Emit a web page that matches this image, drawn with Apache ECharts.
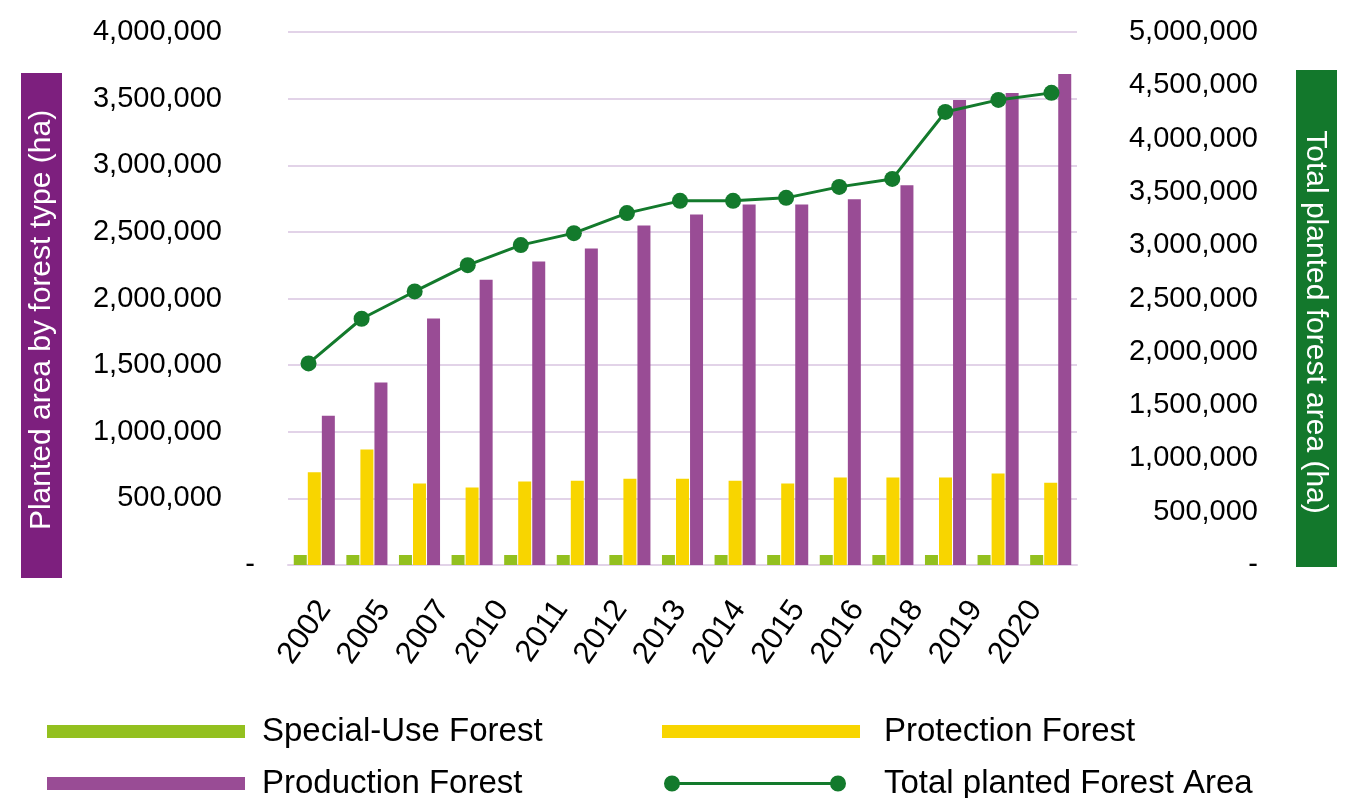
<!DOCTYPE html>
<html>
<head>
<meta charset="utf-8">
<script src="https://cdn.jsdelivr.net/npm/echarts@6/dist/echarts.min.js"></script>
<style>
  html, body { margin: 0; padding: 0; background: #fff; }
  #main { width: 1357px; height: 798px; }
</style>
</head>
<body>
<div id="main"></div>
<script>
// 15 plotted points, but the source only prints 13 year labels under them
var points = ['1', '2', '3', '4', '5', '6', '7', '8', '9', '10', '11', '12', '13', '14', '15'];
var yearLabels = ['2002', '2005', '2007', '2010', '2011', '2012', '2013', '2014', '2015', '2016', '2018', '2019', '2020'];

var specialUse = [75000, 75000, 75000, 75000, 75000, 75000, 75000, 75000, 75000, 75000, 75000, 75000, 75000, 75000, 75000];
var protection = [696000, 866000, 611000, 581000, 626000, 633000, 648000, 648000, 633000, 611000, 656000, 656000, 656000, 686000, 618000];
var production = [1121000, 1370000, 1850000, 2140000, 2277000, 2375000, 2547000, 2631000, 2706000, 2706000, 2744000, 2849000, 3489000, 3542000, 3684000];
var totalPlanted = [1891000, 2310000, 2566000, 2813000, 3001000, 3113000, 3301000, 3416000, 3416000, 3444000, 3547000, 3622000, 4250000, 4363000, 4429000];

var FONT = '"Liberation Sans", Arial, sans-serif';
var GRID_COLOR = '#e2d3e8';

function fmt(v) {
  return v === 0 ? '-' : v.toLocaleString('en-US');
}

var chartDom = document.getElementById('main');
var myChart = echarts.init(chartDom);
var option;

var lineIcon = 'path://M8,0 A8,8 0 1,1 8,16 A8,8 0 1,1 8,0 Z M174,0 A8,8 0 1,1 174,16 A8,8 0 1,1 174,0 Z M14,6.5 L168,6.5 L168,9.5 L14,9.5 Z';

function legendAt(name, left, top, w, h, icon, gap) {
  return {
    data: [name],
    left: left,
    top: top,
    padding: 0,
    icon: icon,
    itemWidth: w,
    itemHeight: h,
    itemStyle: { borderWidth: 0 },
    textStyle: { fontFamily: FONT, fontSize: 33, color: '#000', padding: [0, 0, 0, gap] }
  };
}

option = {
  animation: false,
  backgroundColor: '#fff',
  textStyle: { fontFamily: FONT },
  grid: [
    { left: 288, right: 280, top: 32, bottom: 233 },  // bars
    { left: 282, right: 279, top: 32, bottom: 233 },  // total line sits a little wider in the source
    { left: 295, right: 292, top: 32, bottom: 233 }   // year labels, spaced tighter than the bars
  ],
  legend: [
    legendAt('Special-Use Forest', 47, 715, 198, 13, 'rect', 12),
    legendAt('Production Forest', 47, 767, 198, 13, 'rect', 12),
    legendAt('Protection Forest', 662, 715, 198, 13, 'rect', 19),
    legendAt('Total planted Forest Area', 664, 767, 182, 16, lineIcon, 33)
  ],
  xAxis: [
    {
      type: 'category',
      gridIndex: 2,
      data: yearLabels,
      position: 'bottom',
      boundaryGap: true,
      axisLine: { show: false },
      axisTick: { show: false },
      axisLabel: { rotate: 55, fontSize: 31, color: '#000', margin: 39, fontFamily: FONT }
    },
    {
      type: 'category',
      gridIndex: 0,
      data: points,
      position: 'bottom',
      axisLine: { show: true, lineStyle: { color: GRID_COLOR, width: 2 } },
      axisTick: { show: false },
      axisLabel: { show: false }
    },
    {
      type: 'category',
      gridIndex: 1,
      data: points,
      show: false
    }
  ],
  yAxis: [
    {
      type: 'value',
      gridIndex: 0,
      min: 0,
      max: 4000000,
      interval: 500000,
      axisLine: { show: false },
      axisTick: { show: false },
      splitLine: { lineStyle: { color: GRID_COLOR, width: 2 } },
      axisLabel: {
        align: 'right',
        margin: 33,
        formatter: function (v) {
          return v === 0 ? '{d|-}' : '{n|' + fmt(v) + '}';
        },
        rich: {
          n: { fontSize: 29, color: '#000', fontFamily: FONT, padding: [0, 33, 0, 0] },
          d: { fontSize: 29, color: '#000', fontFamily: FONT }
        }
      }
    },
    {
      type: 'value',
      gridIndex: 1,
      position: 'right',
      min: 0,
      max: 5000000,
      interval: 500000,
      axisLine: { show: false },
      axisTick: { show: false },
      splitLine: { show: false },
      axisLabel: {
        align: 'right',
        margin: 180,
        fontSize: 29,
        color: '#000',
        fontFamily: FONT,
        formatter: fmt
      }
    },
    {
      type: 'value',
      gridIndex: 2,
      show: false
    }
  ],
  graphic: [
    { type: 'rect', shape: { x: 21, y: 73, width: 41, height: 505 }, style: { fill: '#7d1f7e' } },
    {
      type: 'text', x: 42, y: 320, rotation: Math.PI / 2,
      style: { text: 'Planted area by forest type (ha)', fill: '#fff', fontSize: 30, fontFamily: FONT, align: 'center', verticalAlign: 'middle' }
    },
    { type: 'rect', shape: { x: 1296, y: 70, width: 41, height: 497 }, style: { fill: '#13782c' } },
    {
      type: 'text', x: 1315, y: 322, rotation: -Math.PI / 2,
      style: { text: 'Total planted forest area (ha)', fill: '#fff', fontSize: 30, fontFamily: FONT, align: 'center', verticalAlign: 'middle' }
    }
  ],
  series: [
    {
      name: 'Special-Use Forest',
      type: 'bar',
      xAxisIndex: 1,
      yAxisIndex: 0,
      data: specialUse,
      barWidth: 13,
      barGap: '8%',
      itemStyle: { color: '#93c01f' }
    },
    {
      name: 'Protection Forest',
      type: 'bar',
      xAxisIndex: 1,
      yAxisIndex: 0,
      data: protection,
      barWidth: 13,
      barGap: '8%',
      itemStyle: { color: '#f8d500' }
    },
    {
      name: 'Production Forest',
      type: 'bar',
      xAxisIndex: 1,
      yAxisIndex: 0,
      data: production,
      barWidth: 13,
      barGap: '8%',
      itemStyle: { color: '#994c95' }
    },
    {
      name: 'Total planted Forest Area',
      type: 'line',
      xAxisIndex: 2,
      yAxisIndex: 1,
      data: totalPlanted,
      symbol: 'circle',
      symbolSize: 16,
      lineStyle: { color: '#137a2c', width: 3 },
      itemStyle: { color: '#137a2c' },
      z: 5
    }
  ]
};

option && myChart.setOption(option);
</script>
</body>
</html>
